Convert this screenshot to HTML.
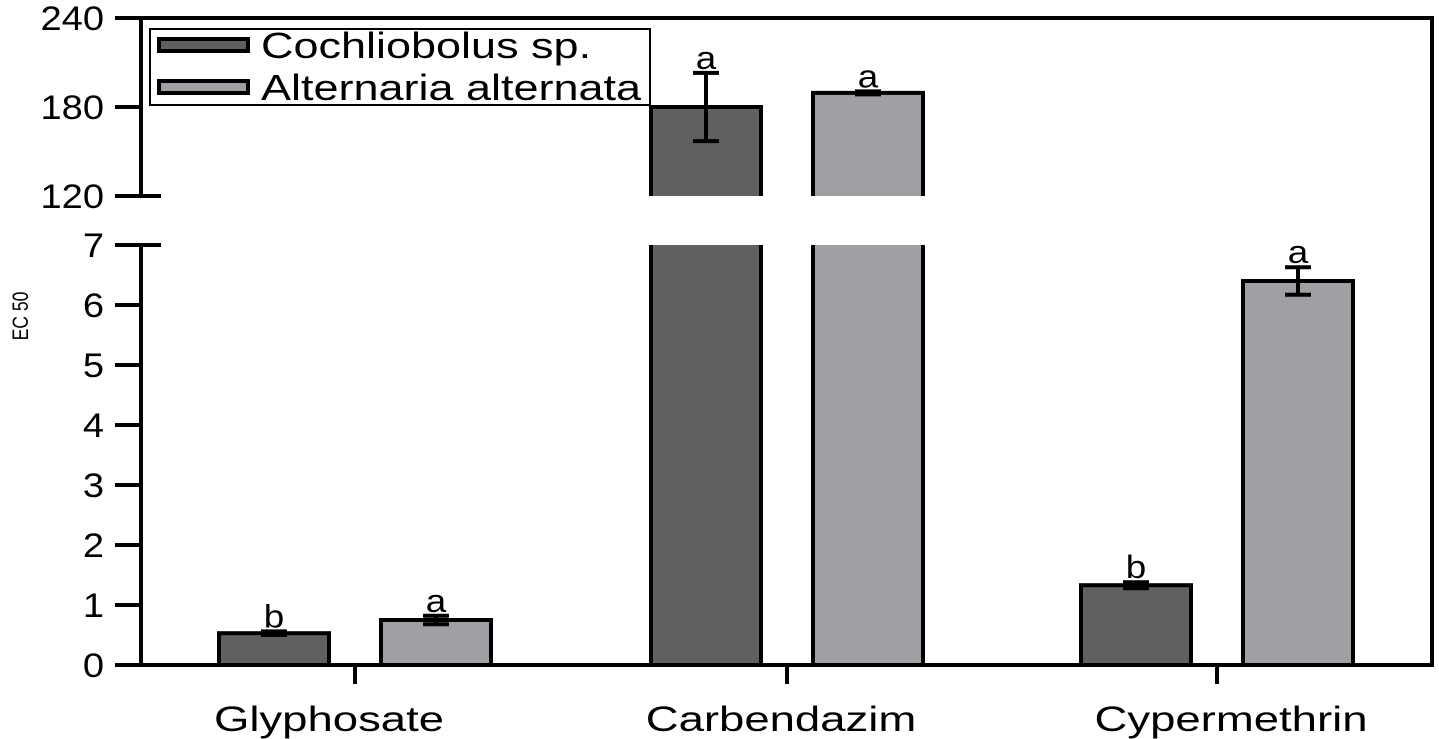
<!DOCTYPE html>
<html><head><meta charset="utf-8"><style>
html,body{margin:0;padding:0;background:#fff;}
svg{display:block;font-family:"Liberation Sans",Arial,sans-serif;}
</style></head><body>
<svg id="chart" width="1439" height="739" viewBox="0 0 1439 739"></svg>
<script>
const categories = ["Glyphosate","Carbendazim","Cypermethrin"];
const seriesNames = ["Cochliobolus sp.","Alternaria alternata"];
const cochValues = [0.53, 180, 1.33];
const cochErrors = [0.03, 23, 0.05];
const altValues = [0.75, 189.5, 6.4];
const altErrors = [0.07, 1, 0.23];
const cochLetters = ["b","a","b"];
const altLetters = ["a","a","a"];
const lowerTicks = [0,1,2,3,4,5,6,7];
const upperTicks = [120,180,240];

const NS = "http://www.w3.org/2000/svg";
const svg = document.getElementById('chart');
const colors = ["#606060","#a09fa4"];
function mk(tag, attrs, parent){const e=document.createElementNS(NS,tag);for(const k in attrs)e.setAttribute(k,attrs[k]);(parent||svg).appendChild(e);return e;}
function txt(str,x,y,size,anchor,parent,sx){
  const t=mk('text',{x:0,y:0,'text-anchor':anchor,'font-size':size,transform:`translate(${x},${y}) scale(${sx},1)`},parent);
  t.textContent=str;return t;
}
const lowBase=665, lowTop=245, upBase=196, upTop=18;
function yLow(v){return lowBase-(v/7)*(lowBase-lowTop);}
function yUp(v){return upBase-((v-120)/120)*(upBase-upTop);}
function yVal(v){return v<=7?yLow(v):(v<120?lowTop:yUp(v));}
function xCat(i){return [355,787,1217][i];}
const barW=110, off=81;

function drawBar(i,s,v,err,letter){
  const cx=xCat(i)+(s===0?-off:off);
  const x0=cx-barW/2;
  const g=mk('g',{});
  
  
  if(v<=7){
    mk('rect',{x:x0,y:yLow(v),width:barW,height:lowBase-yLow(v),fill:colors[s],stroke:'#000','stroke-width':4},g);
  } else {
    mk('rect',{x:x0,y:lowTop,width:barW,height:lowBase-lowTop,fill:colors[s]},g);
    mk('path',{d:`M${x0} ${lowTop} V${lowBase} H${x0+barW} V${lowTop}`,fill:'none',stroke:'#000','stroke-width':4},g);
    mk('rect',{x:x0,y:yUp(v),width:barW,height:upBase-yUp(v),fill:colors[s]},g);
    mk('path',{d:`M${x0} ${upBase} V${yUp(v)} H${x0+barW} V${upBase}`,fill:'none',stroke:'#000','stroke-width':4},g);
  }
  const yt=yVal(v+err), yb=yVal(v-err);
  const eg=mk('g',{},g);
  
  
  mk('line',{x1:cx,x2:cx,y1:yt,y2:yb,stroke:'#000','stroke-width':4},eg);
  mk('line',{x1:cx-13,x2:cx+13,y1:yt,y2:yt,stroke:'#000','stroke-width':4},eg);
  mk('line',{x1:cx-13,x2:cx+13,y1:yb,y2:yb,stroke:'#000','stroke-width':4},eg);
  const t=txt(letter,cx,yt-4,32,'middle',g,1.15);
  
  
}
for(let i=0;i<categories.length;i++){
  drawBar(i,0,cochValues[i],cochErrors[i],cochLetters[i]);
  drawBar(i,1,altValues[i],altErrors[i],altLetters[i]);
}

const ax=mk('g',{});


mk('line',{x1:115,x2:1434,y1:18,y2:18,stroke:'#000','stroke-width':4},ax);
mk('line',{x1:1432,x2:1432,y1:16,y2:667,stroke:'#000','stroke-width':4},ax);
mk('line',{x1:115,x2:1434,y1:665,y2:665,stroke:'#000','stroke-width':4},ax);
mk('line',{x1:141,x2:141,y1:16,y2:196,stroke:'#000','stroke-width':4},ax);
mk('line',{x1:141,x2:141,y1:245,y2:667,stroke:'#000','stroke-width':4},ax);
lowerTicks.forEach(v=>{
  const y=yLow(v);
  mk('line',{x1:115,x2:(v===7?161:141),y1:y,y2:y,stroke:'#000','stroke-width':4},ax);
  const t=txt(String(v),104,y+12,34,'end',ax,1.12);
  
  
});
upperTicks.forEach(v=>{
  const y=yUp(v);
  mk('line',{x1:115,x2:(v===120?161:141),y1:y,y2:y,stroke:'#000','stroke-width':4},ax);
  const t=txt(String(v),104,y+12,34,'end',ax,1.12);
  
  
});
categories.forEach((c,i)=>{
  const x=xCat(i);
  mk('line',{x1:x,x2:x,y1:665,y2:684,stroke:'#000','stroke-width':4},ax);
  const t=txt(c,x+(i-1)*20-6,731,35,'middle',ax,1.3);
  
  
});
const yt=mk('text',{x:0,y:0,'text-anchor':'middle','font-size':22,transform:'translate(28,316) rotate(-90) scale(0.8,1)'});
yt.textContent='EC 50';



const lg=mk('g',{});


mk('rect',{x:150,y:29,width:500,height:76,fill:'#fff',stroke:'#000','stroke-width':2},lg);
seriesNames.forEach((n,s)=>{
  const y=s===0?45:87;
  const e=mk('g',{},lg);
  
  
  mk('rect',{x:159,y:y-6,width:89,height:12,fill:colors[s],stroke:'#000','stroke-width':4},e);
  txt(n,261,y+13,36,'start',e,1.25);
});
</script>
</body></html>
